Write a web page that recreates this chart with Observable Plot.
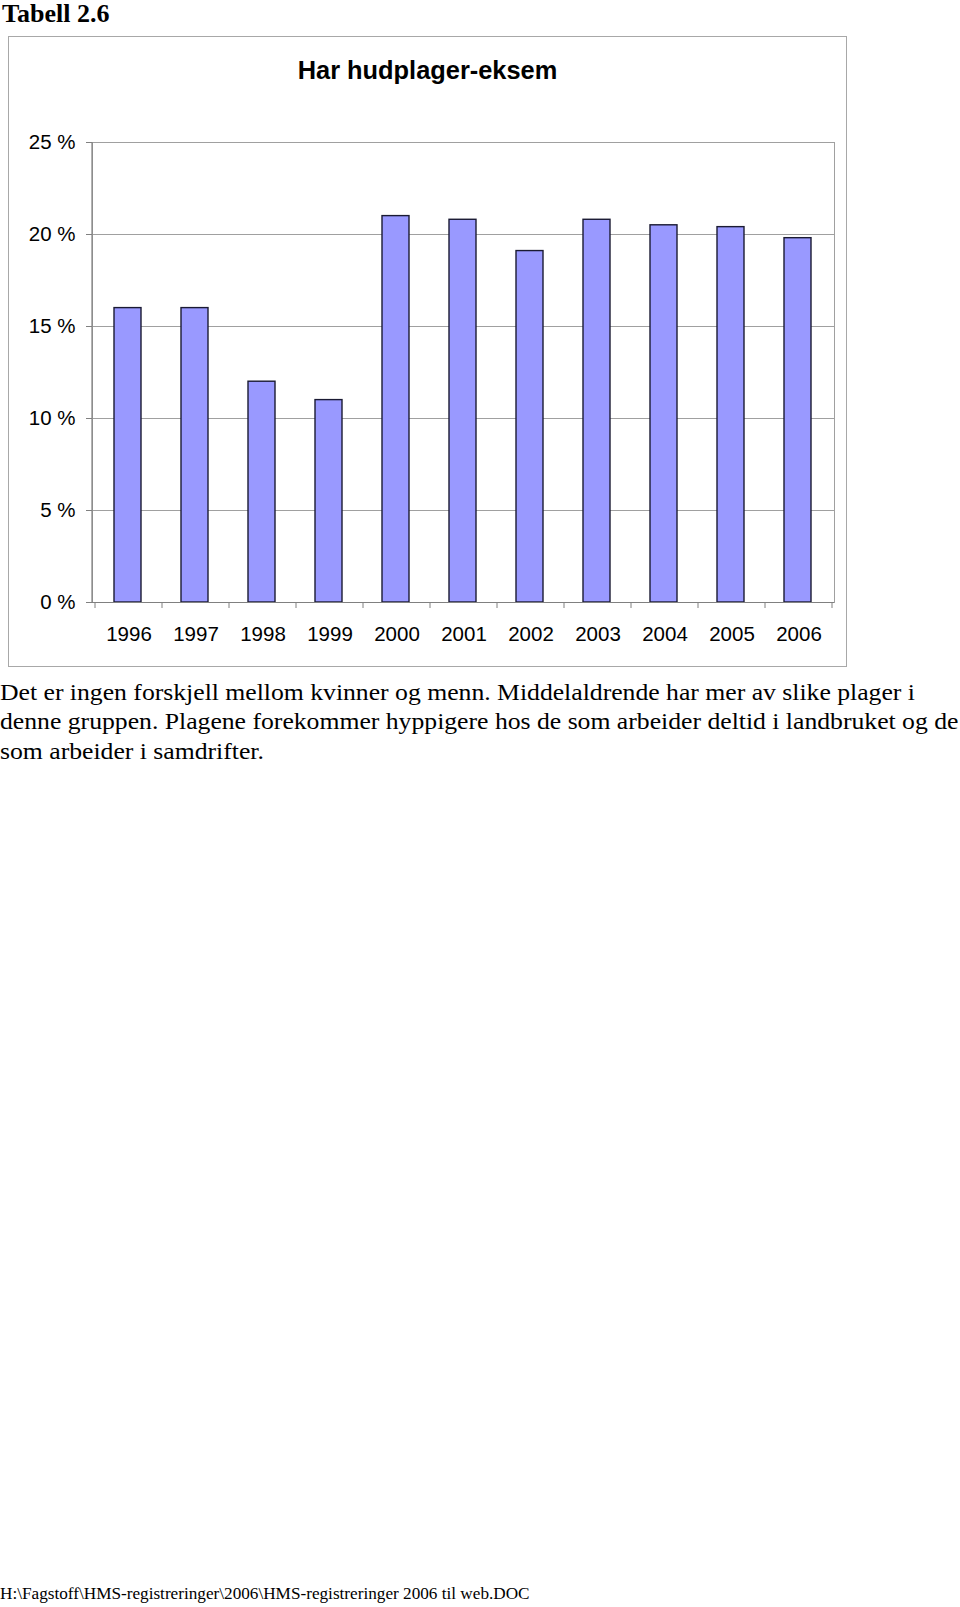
<!DOCTYPE html>
<html>
<head>
<meta charset="utf-8">
<script src="https://cdn.jsdelivr.net/npm/d3@7"></script>
<script src="https://cdn.jsdelivr.net/npm/@observablehq/plot@0.6"></script>
<style>
  html, body { margin: 0; padding: 0; background: #fff; }
  body { width: 960px; height: 1607px; position: relative; overflow: hidden; }
  .serif { font-family: "Liberation Serif", "Times New Roman", serif; color: #000; }
  #heading { position: absolute; left: 2px; top: -1px; font-size: 26px; font-weight: bold; }
  #frame { position: absolute; left: 8px; top: 36px; width: 839px; height: 631px; border: 1px solid #a8a8a8; box-sizing: border-box; }
  #title { position: absolute; left: 8px; width: 839px; top: 56px; text-align: center;
           font-family: "Liberation Sans", Arial, sans-serif; font-weight: bold; font-size: 25.4px; }
  #chart { position: absolute; left: 0; top: 100px; }
  #para { position: absolute; left: 0; top: 678px; font-size: 24px; line-height: 29.3px; white-space: nowrap;
          transform: scaleX(1.07); transform-origin: 0 0; }
  #footer { position: absolute; left: 0; top: 1584px; font-size: 17.2px; white-space: nowrap; }
</style>
</head>
<body>
<div id="heading" class="serif">Tabell 2.6</div>
<div id="frame"></div>
<div id="title">Har hudplager-eksem</div>
<div id="chart"></div>
<div id="para" class="serif"></div>
<div id="footer" class="serif"></div>
<script>
const years = ["1996","1997","1998","1999","2000","2001","2002","2003","2004","2005","2006"];
const values = [16, 16, 12, 11, 21, 20.8, 19.1, 20.8, 20.5, 20.4, 19.8];
const yTicks = [0, 5, 10, 15, 20, 25];
const paragraphLines = [
  "Det er ingen forskjell mellom kvinner og menn. Middelaldrende har mer av slike plager i",
  "denne gruppen. Plagene forekommer hyppigere hos de som arbeider deltid i landbruket og de",
  "som arbeider i samdrifter."
];
const footerText = "H:\\Fagstoff\\HMS-registreringer\\2006\\HMS-registreringer 2006 til web.DOC";

const data = years.map((y, i) => ({year: y, value: values[i]}));

// boundary tick marks (Excel-style ticks between categories)
function boundaryTicks(index, scales, values, dimensions) {
  const x = scales.x, y = scales.y;
  const bw = typeof x.bandwidth === "function" ? x.bandwidth() : 0;
  const y0 = y(0);
  const g = d3.create("svg:g").attr("stroke", "#808080").attr("stroke-width", 1);
  const pos = years.map(d => x(d));
  pos.push(x(years[years.length - 1]) + bw);
  for (const px of pos) {
    g.append("line").attr("x1", px).attr("x2", px).attr("y1", y0).attr("y2", y0 + 6);
  }
  return g.node();
}

const chart = Plot.plot({
  width: 960,
  height: 560,
  marginLeft: 92,
  marginRight: 126,
  marginTop: 42,
  marginBottom: 58,
  style: { fontFamily: "'Liberation Sans', Arial, sans-serif", fontSize: "20.5px", color: "#000", background: "transparent" },
  x: { type: "band", domain: years, padding: 0 },
  y: { domain: [0, 25] },
  marks: [
    Plot.ruleY(yTicks, { stroke: "#a0a0a0", strokeWidth: 1 }),
    Plot.frame({ stroke: "#a0a0a0", strokeWidth: 1 }),
    Plot.barY(data, { x: "year", y: "value", fill: "#9999ff", stroke: "#1a1a33", strokeWidth: 1.4, insetLeft: 19, insetRight: 21 }),
    Plot.axisY({ ticks: yTicks, tickFormat: d => d + " %", tickSize: 6, tickPadding: 11, stroke: "#808080", fontSize: 20.5, label: null }),
    Plot.axisX({ tickSize: 0, tickPadding: 24, fontSize: 20.5, label: null }),
    boundaryTicks,
    Plot.ruleY([0], { stroke: "#808080", strokeWidth: 1.2 })
  ]
});
document.getElementById("chart").appendChild(chart);

// left axis line
d3.select(chart).append("line")
  .attr("x1", 92).attr("x2", 92).attr("y1", 42).attr("y2", 502)
  .attr("stroke", "#808080").attr("stroke-width", 1.2);

document.getElementById("para").innerHTML = paragraphLines.map(l => `<div>${l}</div>`).join("");
document.getElementById("footer").textContent = footerText;
</script>
</body>
</html>
